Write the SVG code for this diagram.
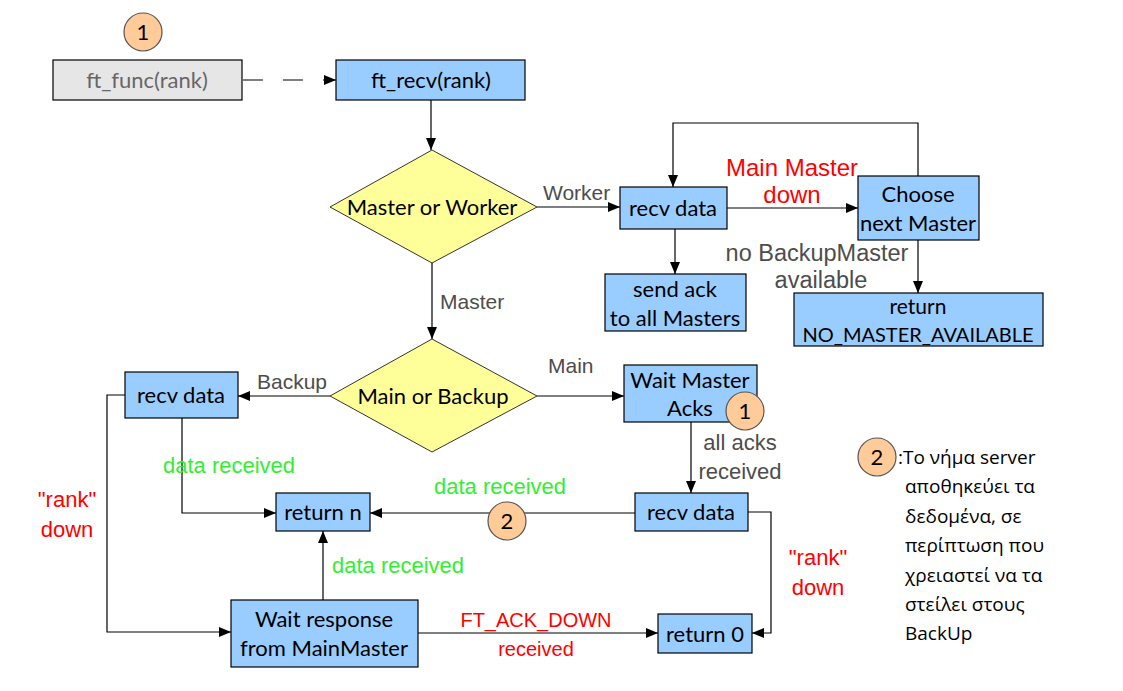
<svg xmlns="http://www.w3.org/2000/svg" width="1123" height="691" viewBox="0 0 1123 691">
<defs>
<marker id="ah" markerWidth="12" markerHeight="10" refX="12" refY="5" orient="auto" markerUnits="userSpaceOnUse"><path d="M0,0 L12,5 L0,10 Z" fill="#000"/></marker>
<style>
.box{fill:#99ccff;stroke:#000;stroke-width:1.2}
.dia{fill:#ffff99;stroke:#333;stroke-width:1}
.circ{fill:#ffcc99;stroke:#555;stroke-width:1.2}
.t{font-family:Lato,"Open Sans",sans-serif;font-size:22px;fill:#000;text-anchor:middle}
.lab{font-family:"Liberation Sans",Arial,sans-serif;font-size:21px;fill:#4d4d4d}
.red{font-family:"Liberation Sans",Arial,sans-serif;font-size:22px;fill:#ff0000;text-anchor:middle}
.grn{font-family:"Liberation Sans",Arial,sans-serif;font-size:22px;fill:#33ee33}
.leg{font-family:"Open Sans","Noto Sans",sans-serif;font-size:19px;fill:#000}
.ln{fill:none;stroke:#000;stroke-width:1.2}
</style>
</defs>
<rect width="1123" height="691" fill="#fff"/>
<g id="connectors">
<path class="ln" d="M243,80 H336" stroke-dasharray="20,20" marker-end="url(#ah)"/>
<path class="ln" d="M431,100 V150" marker-end="url(#ah)"/>
<path class="ln" d="M537,207 H620" marker-end="url(#ah)"/>
<path class="ln" d="M727,208 H858" marker-end="url(#ah)"/>
<path class="ln" d="M918,176 V123 H673 V187" marker-end="url(#ah)"/>
<path class="ln" d="M918,240 V293" marker-end="url(#ah)"/>
<path class="ln" d="M675,229 V274" marker-end="url(#ah)"/>
<path class="ln" d="M432,263 V339" marker-end="url(#ah)"/>
<path class="ln" d="M330,396 H238" marker-end="url(#ah)"/>
<path class="ln" d="M537,396 H624" marker-end="url(#ah)"/>
<path class="ln" d="M691,422 V493" marker-end="url(#ah)"/>
<path class="ln" d="M635,513 H370" marker-end="url(#ah)"/>
<path class="ln" d="M182,418 V513 H276" marker-end="url(#ah)"/>
<path class="ln" d="M125,395 H107 V632 H231" marker-end="url(#ah)"/>
<path class="ln" d="M323,600 V531" marker-end="url(#ah)"/>
<path class="ln" d="M418,633 H658" marker-end="url(#ah)"/>
<path class="ln" d="M748,512 H771 V633 H752" marker-end="url(#ah)"/>
</g>
<g id="labels">
<text class="lab" x="543" y="200">Worker</text>
<text class="red" x="792" y="176" style="font-size:24px">Main Master</text>
<text class="red" x="792" y="203" style="font-size:24px">down</text>
<text class="lab" x="817" y="261" text-anchor="middle" style="font-size:23.5px">no BackupMaster</text>
<text class="lab" x="821" y="288" text-anchor="middle" style="font-size:23.5px">available</text>
<text class="lab" x="440" y="309">Master</text>
<text class="lab" x="257" y="389">Backup</text>
<text class="lab" x="548" y="373">Main</text>
<text class="lab" x="740" y="450" text-anchor="middle" style="font-size:22px">all acks</text>
<text class="lab" x="740" y="479" text-anchor="middle" style="font-size:22px">received</text>
<text class="grn" x="163" y="473">data received</text>
<text class="grn" x="434" y="494">data received</text>
<text class="grn" x="332" y="573">data received</text>
<text class="red" x="67" y="507">"rank"</text>
<text class="red" x="67" y="537">down</text>
<text class="red" x="818" y="565">"rank"</text>
<text class="red" x="818" y="595">down</text>
<text class="red" x="536" y="627" style="font-size:20px">FT_ACK_DOWN</text>
<text class="red" x="536" y="656" style="font-size:20px">received</text>
</g>
<g id="c1top"><circle class="circ" cx="143" cy="32" r="19"/><text class="t" x="143" y="40">1</text></g>
<g id="ft_func"><rect x="53" y="60" width="189" height="40" fill="#e6e6e6" stroke="#000" stroke-width="1.2"/><text class="t" x="147" y="88" style="fill:#666">ft_func(rank)</text></g>
<g id="ft_recv"><rect class="box" x="336" y="60" width="189" height="40"/><text class="t" x="431" y="88">ft_recv(rank)</text></g>
<g id="d1"><polygon class="dia" points="330,207 432,150 537,207 432,263"/><text class="t" x="432" y="215">Master or Worker</text></g>
<g id="recv_w"><rect class="box" x="620" y="187" width="107" height="42"/><text class="t" x="673" y="216">recv data</text></g>
<g id="choose"><rect class="box" x="858" y="176" width="121" height="64"/><text class="t" x="918" y="202">Choose</text><text class="t" x="918" y="231">next Master</text></g>
<g id="nomaster"><rect class="box" x="794" y="293" width="249" height="53"/><text class="t" x="918" y="314" style="font-size:21px">return</text><text class="t" x="918" y="342" style="font-size:20px">NO_MASTER_AVAILABLE</text></g>
<g id="sendack"><rect class="box" x="605" y="274" width="141" height="57"/><text class="t" x="675" y="297">send ack</text><text class="t" x="675" y="326">to all Masters</text></g>
<g id="d2"><polygon class="dia" points="330,396 432,339 537,396 432,452"/><text class="t" x="433" y="404">Main or Backup</text></g>
<g id="recv_b"><rect class="box" x="125" y="372" width="113" height="46"/><text class="t" x="181" y="403">recv data</text></g>
<g id="waitacks"><rect class="box" x="624" y="365" width="133" height="57"/><text class="t" x="690" y="388">Wait Master</text><text class="t" x="690" y="416">Acks</text><circle class="circ" cx="745" cy="411" r="19"/><text class="t" x="745" y="419">1</text></g>
<g id="recv_m"><rect class="box" x="635" y="493" width="113" height="38"/><text class="t" x="691" y="520">recv data</text></g>
<g id="returnn"><rect class="box" x="276" y="493" width="94" height="38"/><text class="t" x="323" y="520">return n</text></g>
<g id="c2"><circle class="circ" cx="507" cy="521" r="19"/><text class="t" x="507" y="529">2</text></g>
<g id="waitresp"><rect class="box" x="231" y="600" width="187" height="67"/><text class="t" x="324" y="627">Wait response</text><text class="t" x="324" y="656">from MainMaster</text></g>
<g id="return0"><rect class="box" x="658" y="614" width="94" height="39"/><text class="t" x="705" y="642">return 0</text></g>
<g id="legend"><circle class="circ" cx="877" cy="457" r="19"/><text class="t" x="877" y="465">2</text>
<text class="leg" x="898" y="464">:Το νήμα server</text>
<text class="leg" x="905" y="493">αποθηκεύει τα</text>
<text class="leg" x="905" y="523">δεδομένα, σε</text>
<text class="leg" x="905" y="552">περίπτωση που</text>
<text class="leg" x="905" y="582">χρειαστεί να τα</text>
<text class="leg" x="905" y="611">στείλει στους</text>
<text class="leg" x="905" y="640">BackUp</text>
</g>
</svg>
